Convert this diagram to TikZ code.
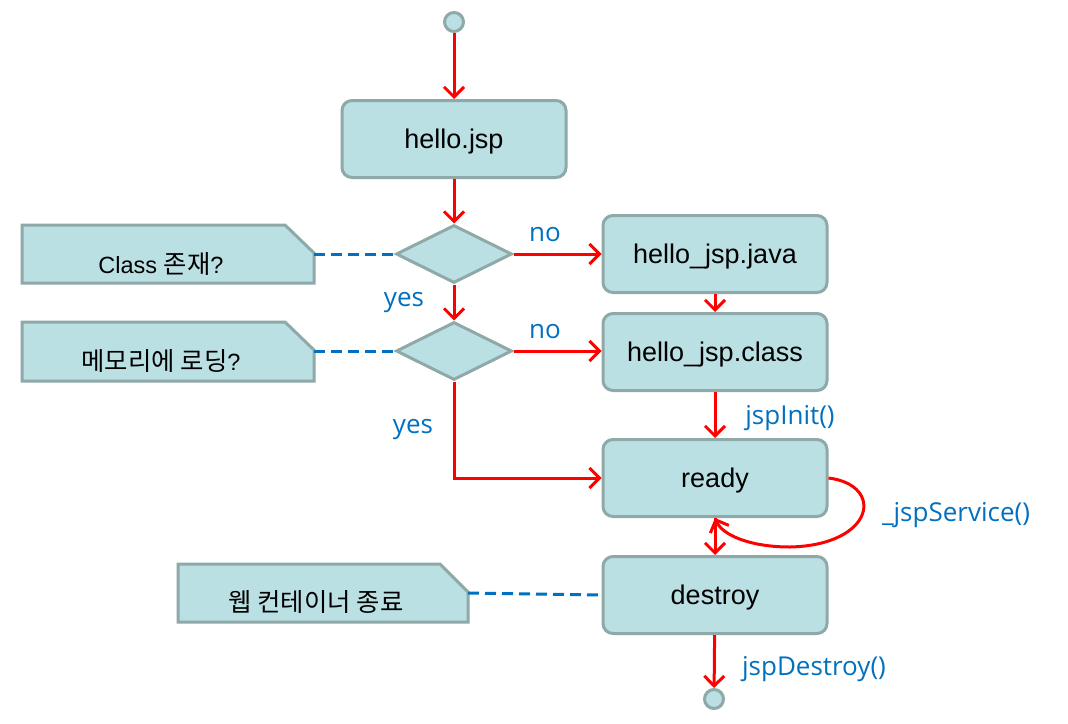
\documentclass[tikz,border=0pt]{standalone}
\usepackage{fontspec}
\setmainfont{Liberation Sans}
\newfontfamily\kr{Noto Sans CJK KR}[Scale=1.08]
\newfontfamily\lblfont{Open Sans}
\usetikzlibrary{shapes.geometric,arrows.meta}
\definecolor{boxfill}{HTML}{BBE0E3}
\definecolor{boxline}{HTML}{8FA8A8}
\definecolor{lblue}{HTML}{0070C0}
\definecolor{ared}{HTML}{FF0000}
\tikzset{
  stepbox/.style={draw=boxline, fill=boxfill, line width=3, rounded corners=10,
    minimum width=224, minimum height=77, inner sep=0, text depth=0pt, font=\fontsize{27}{32}\selectfont},
  decis/.style={draw=boxline, fill=boxfill, line width=3, diamond, aspect=2,
    minimum width=116, minimum height=58, inner sep=0},
  endpt/.style={draw=boxline, fill=boxfill, line width=3, circle, minimum size=19, inner sep=0},
  notebox/.style={draw=boxline, fill=boxfill, line width=3},
  notetext/.style={font=\fontsize{23.5}{28}\selectfont, inner sep=0},
  flow/.style={draw=ared, line width=3, -{Straight Barb[length=10,width=20,line width=3]}},
  link/.style={draw=lblue, line width=3, dash pattern=on 11 off 6},
  lbl/.style={text=lblue, font=\lblfont\fontsize{26}{30}\selectfont, inner sep=0}
}
\begin{document}
\begin{tikzpicture}[x=1pt,y=-1pt]
\useasboundingbox (0,0) rectangle (1068,723);
% nodes
\node[endpt] (start) at (454,22) {};
\node[stepbox] (hello) at (454,139) {hello.jsp};
\node[decis] (d1) at (454,254) {};
\node[decis] (d2) at (454,351) {};
\node[stepbox] (java) at (715,254) {hello\_jsp.java};
\node[stepbox] (cls) at (715,352) {hello\_jsp.class};
\node[stepbox] (ready) at (715,478) {ready};
\node[stepbox] (destroy) at (715,595) {destroy};
\node[endpt] (end) at (714,699) {};
% notes
\draw[notebox] (22,225) -- (285,225) -- (314,253) -- (314,283) -- (22,283) -- cycle;
\node[notetext] (n1) at (161,264) {Class {\kr 존재}?};
\coordinate (n1r) at (314,254);
\draw[notebox] (22,322) -- (285,322) -- (314,350) -- (314,381) -- (22,381) -- cycle;
\node[notetext] (n2) at (161,361) {{\kr 메모리에 로딩}?};
\coordinate (n2r) at (314,351);
\draw[notebox] (178,564) -- (440,564) -- (468,592) -- (468,622) -- (178,622) -- cycle;
\node[notetext] (n3) at (316,602) {\kr 웹 컨테이너 종료};
\coordinate (n3r) at (468,593);
% dashed links
\draw[link] (n1r) -- (d1.west);
\draw[link] (n2r) -- (d2.west);
\draw[link] (n3r) -- (destroy.west);
% flows
\draw[flow] (start) -- (hello);
\draw[flow] (hello) -- (d1);
\draw[flow] (d1.east) -- (java.west);
\draw[flow] (d1.south) -- (d2.north);
\draw[flow] (d2.east) -- (d2.east -| cls.west);
\draw[flow] (java) -- (cls);
\draw[flow] (cls) -- (ready);
\draw[flow] (d2.south) |- (ready.west);
\draw[flow] (ready) -- (destroy);
\draw[flow] (ready.east) .. controls (885,485) and (875,545) .. (790,547) .. controls (750,547) and (722,535) .. (ready.south);
\draw[flow] (destroy) -- (end);
% labels
\node[lbl] (no1) at (545,235) {no};
\node[lbl] (yes1) at (404,303) {yes};
\node[lbl] (no2) at (545,332) {no};
\node[lbl] (yes2) at (413,430) {yes};
\node[lbl] (init) at (790,418) {jspInit()};
\node[lbl] (svc) at (956,515) {\_jspService()};
\node[lbl] (dstr) at (814,669) {jspDestroy()};
\end{tikzpicture}
\end{document}
